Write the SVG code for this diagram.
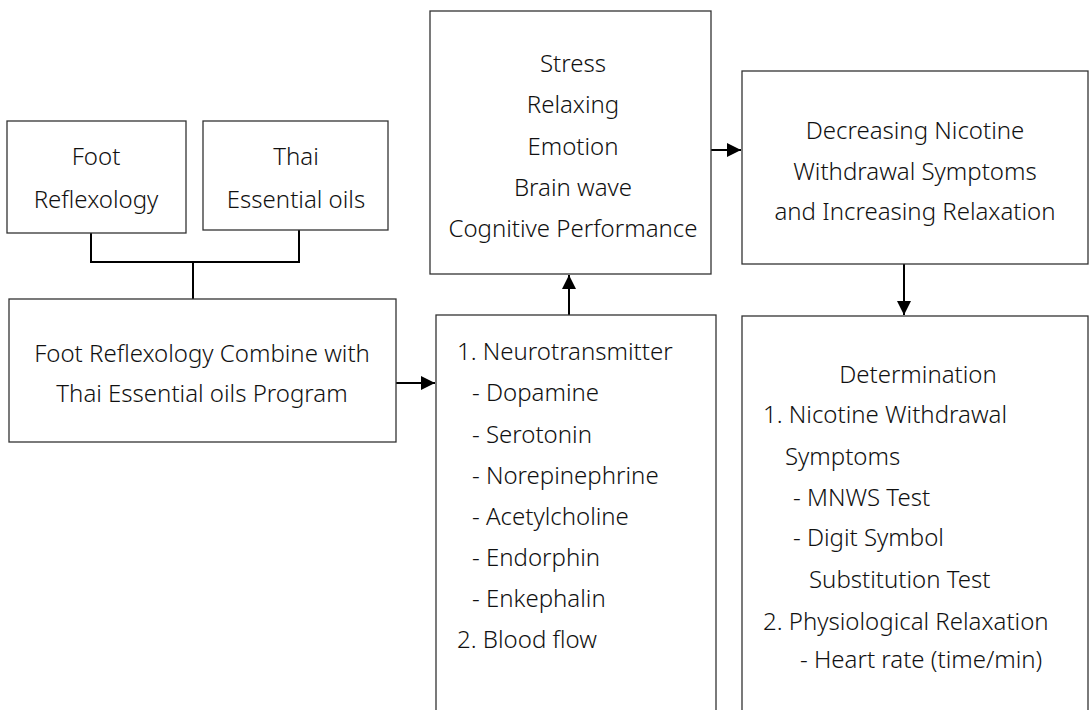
<svg xmlns="http://www.w3.org/2000/svg" width="1089" height="710" viewBox="0 0 1089 710">
<defs>
<style>
.box{fill:#fff;stroke:#333;stroke-width:1.3}
.t{font-family:"Noto Sans","Open Sans",sans-serif;font-size:24px;font-weight:300;fill:#111}
.c{text-anchor:middle}
.ln{fill:none;stroke:#000;stroke-width:2}
</style>
<marker id="ah" viewBox="0 0 10 10" refX="10" refY="5" markerWidth="14" markerHeight="14" markerUnits="userSpaceOnUse" orient="auto">
<path d="M0,0 L10,5 L0,10 z" fill="#000"/>
</marker>
</defs>
<rect width="1089" height="710" fill="#fff"/>
<g id="connectors">
<path class="ln" d="M91,233 V262 H299 V230"/>
<path class="ln" d="M193,262 V299"/>
<path class="ln" d="M396,383 H435" marker-end="url(#ah)"/>
<path class="ln" d="M569,315 V275" marker-end="url(#ah)"/>
<path class="ln" d="M711,150 H741" marker-end="url(#ah)"/>
<path class="ln" d="M904,264 V315" marker-end="url(#ah)"/>
</g>
<g id="foot">
<rect class="box" x="7" y="121" width="179" height="112"/>
<text class="t c" x="96" y="165">Foot</text>
<text class="t c" x="96" y="208">Reflexology</text>
</g>
<g id="thai">
<rect class="box" x="203" y="121" width="185" height="109"/>
<text class="t c" x="296" y="165">Thai</text>
<text class="t c" x="296" y="208">Essential oils</text>
</g>
<g id="program">
<rect class="box" x="9" y="299" width="387" height="143"/>
<text class="t c" x="202" y="362">Foot Reflexology Combine with</text>
<text class="t c" x="202" y="402">Thai Essential oils Program</text>
</g>
<g id="effects">
<rect class="box" x="430" y="11" width="281" height="263"/>
<text class="t c" x="573" y="72">Stress</text>
<text class="t c" x="573" y="113">Relaxing</text>
<text class="t c" x="573" y="155">Emotion</text>
<text class="t c" x="573" y="196">Brain wave</text>
<text class="t c" x="573" y="237">Cognitive Performance</text>
</g>
<g id="mechanism">
<rect class="box" x="436" y="315" width="280" height="410"/>
<text class="t" x="457" y="360">1. Neurotransmitter</text>
<text class="t" x="472" y="401">- Dopamine</text>
<text class="t" x="472" y="443">- Serotonin</text>
<text class="t" x="472" y="484">- Norepinephrine</text>
<text class="t" x="472" y="525">- Acetylcholine</text>
<text class="t" x="472" y="566">- Endorphin</text>
<text class="t" x="472" y="607">- Enkephalin</text>
<text class="t" x="457" y="648">2. Blood flow</text>
</g>
<g id="outcome">
<rect class="box" x="742" y="71" width="346" height="193"/>
<text class="t c" x="915" y="139">Decreasing Nicotine</text>
<text class="t c" x="915" y="180">Withdrawal Symptoms</text>
<text class="t c" x="915" y="220">and Increasing Relaxation</text>
</g>
<g id="determination">
<rect class="box" x="742" y="316" width="346" height="410"/>
<text class="t c" x="918" y="383">Determination</text>
<text class="t" x="763" y="423">1. Nicotine Withdrawal</text>
<text class="t" x="785" y="465">Symptoms</text>
<text class="t" x="793" y="506">- MNWS Test</text>
<text class="t" x="793" y="546">- Digit Symbol</text>
<text class="t" x="809" y="588">Substitution Test</text>
<text class="t" x="763" y="630">2. Physiological Relaxation</text>
<text class="t" x="800" y="668">- Heart rate (time/min)</text>
</g>
</svg>
